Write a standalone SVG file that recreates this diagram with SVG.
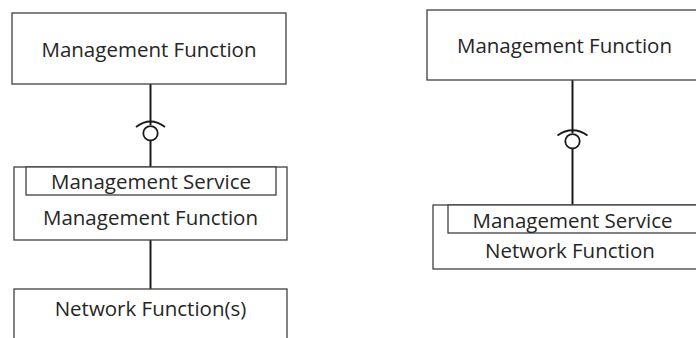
<svg xmlns="http://www.w3.org/2000/svg" width="696" height="338" viewBox="0 0 696 338">
<style>
.box{fill:#fff;stroke:#404040;stroke-width:1.3}
.lbl{font-family:"Open Sans","Noto Sans","Liberation Sans",sans-serif;font-size:20.5px;fill:#262626;text-anchor:middle}
.con{fill:none;stroke:#1a1a1a;stroke-width:2}
.sock{fill:none;stroke:#1a1a1a;stroke-width:1.8}
</style>
<rect width="696" height="338" fill="#fff"/>
<g id="connectors">
<line class="con" x1="150.5" y1="84" x2="150.5" y2="125"/>
<path class="sock" d="M136,127 Q150.5,116 165,127"/>
<circle class="sock" cx="150.5" cy="133.3" r="7.2"/>
<line class="con" x1="150.5" y1="140.5" x2="150.5" y2="167"/>
<line class="con" x1="150.5" y1="240" x2="150.5" y2="289"/>
<line class="con" x1="572.5" y1="80" x2="572.5" y2="133"/>
<path class="sock" d="M557.5,135.5 Q572.5,125 587.5,135.5"/>
<circle class="sock" cx="572.5" cy="141.3" r="7.2"/>
<line class="con" x1="572.5" y1="148.5" x2="572.5" y2="205"/>
</g>
<g id="mf-left-top">
<rect class="box" x="12" y="13" width="274" height="71"/>
<text class="lbl" x="149" y="57">Management Function</text>
</g>
<g id="mf-left-mid">
<rect class="box" x="14" y="167" width="273" height="73"/>
<rect class="box" x="26" y="167" width="250" height="28"/>
<text class="lbl" x="151" y="189">Management Service</text>
<text class="lbl" x="150.5" y="225">Management Function</text>
</g>
<g id="nf-left-bottom">
<rect class="box" x="14" y="289" width="273" height="80"/>
<text class="lbl" x="150.5" y="316">Network Function(s)</text>
</g>
<g id="mf-right-top">
<rect class="box" x="427" y="10" width="300" height="70"/>
<text class="lbl" x="564.5" y="53">Management Function</text>
</g>
<g id="nf-right">
<rect class="box" x="433" y="205" width="300" height="64"/>
<rect class="box" x="448" y="205" width="300" height="28"/>
<text class="lbl" x="572.5" y="228">Management Service</text>
<text class="lbl" x="570" y="258">Network Function</text>
</g>
</svg>
